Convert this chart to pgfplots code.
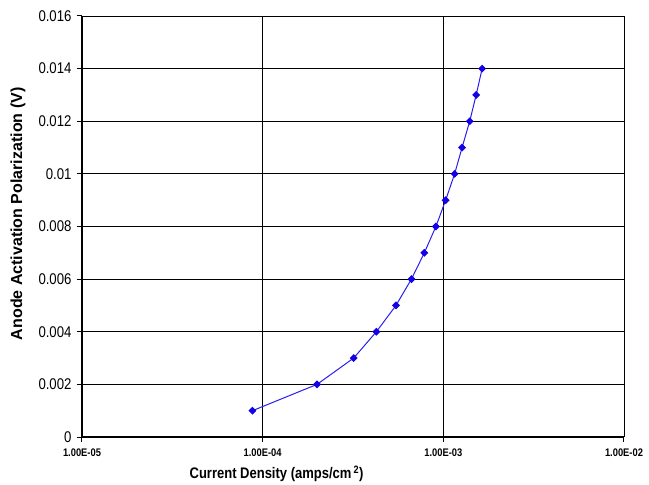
\documentclass[border=0pt]{standalone}
\usepackage{fontspec}
\setmainfont{Liberation Sans}
\usepackage{graphicx}
\usepackage{pgfplots}
\pgfplotsset{compat=1.18}
\newcommand{\sq}[1]{\scalebox{0.85}[1]{#1}}
\begin{document}
\begin{tikzpicture}[x=1bp,y=1bp]
\useasboundingbox (-82bp,-48bp) rectangle (567bp,437bp);
\begin{axis}[
  at={(0,0)}, anchor=south west,
  scale only axis,
  width=542bp, height=421bp,
  xmode=log,
  log basis x=10,
  xmin=1e-5, xmax=1e-2,
  ymin=0, ymax=0.016,
  scaled y ticks=false,
  xtick={1e-5,1e-4,1e-3,1e-2},
  xticklabels={\sq{1.00E-05},\sq{1.00E-04},\sq{1.00E-03},\sq{1.00E-02}},
  ytick={0,0.002,0.004,0.006,0.008,0.01,0.012,0.014,0.016},
  yticklabels={\sq{0},\sq{0.002},\sq{0.004},\sq{0.006},\sq{0.008},\sq{0.01},\sq{0.012},\sq{0.014},\sq{0.016}},
  minor xtick={},
  xminorticks=false,
  yminorticks=false,
  minor tick length=0pt,
  minor tick style={draw=none},
  grid=major,
  major grid style={black, line width=0.9bp},
  axis x line*=bottom, axis y line*=left,
  axis line style={black, line width=1.5bp, -},
  major tick style={black, line width=1bp},
  tick align=outside,
  major tick length=5bp,
  xticklabel style={font=\bfseries\fontsize{11bp}{12bp}\selectfont, yshift=-3bp},
  yticklabel style={font=\fontsize{15.5bp}{17bp}\selectfont, xshift=-2bp},
  xlabel={\sq{\textbf{Current Density (amps/cm\,\textsuperscript{2})}}},
  ylabel={\textbf{Anode Activation Polarization (V)}},
  xlabel style={font=\fontsize{15.3bp}{17bp}\selectfont, at={(axis description cs:0.359,-0.088)}, anchor=center},
  ylabel style={font=\fontsize{16bp}{18bp}\selectfont, at={(axis description cs:-0.118,0.53)}, anchor=center},
  clip=false,
]
\addplot[color={rgb,255:red,40;green,30;blue,240}, line width=1bp, mark=square*, mark size=2.3bp, mark options={rotate=45, fill={rgb,255:red,20;green,0;blue,230}, draw={rgb,255:red,20;green,0;blue,230}}] coordinates {
(8.78e-5,0.001)
(2.0e-4,0.002)
(3.19e-4,0.003)
(4.26e-4,0.004)
(5.47e-4,0.005)
(6.66e-4,0.006)
(7.85e-4,0.007)
(9.10e-4,0.008)
(1.030e-3,0.009)
(1.155e-3,0.010)
(1.27e-3,0.011)
(1.40e-3,0.012)
(1.52e-3,0.013)
(1.64e-3,0.014)
};
\end{axis}
\end{tikzpicture}
\end{document}
